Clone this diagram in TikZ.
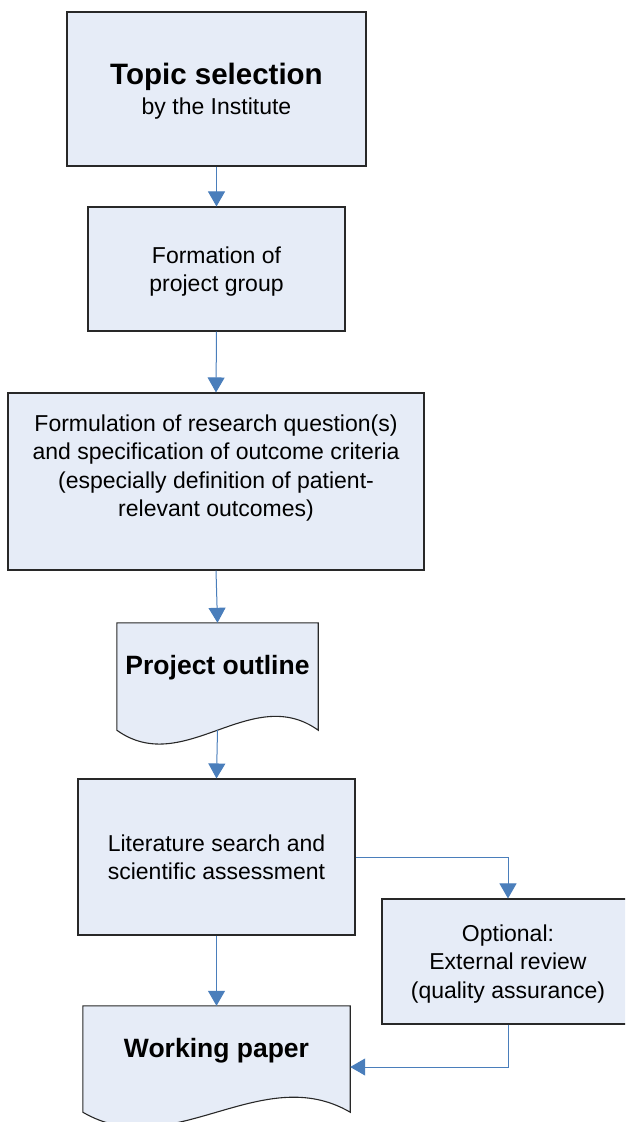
\documentclass[tikz,border=0pt]{standalone}
\usepackage{fontspec}
\setmainfont{Liberation Sans}
\usetikzlibrary{arrows.meta,calc}
\definecolor{boxfill}{RGB}{230,236,247}
\definecolor{boxline}{RGB}{40,40,40}
\definecolor{flow}{RGB}{74,126,187}

\begin{document}
\begin{tikzpicture}[x=1pt,y=-1pt,
  stepbox/.style={draw=boxline, line width=1.1pt, fill=boxfill, align=center,
    inner sep=0pt, text depth=0pt, font=\fontsize{23}{28.5}\selectfont},
  area/.style={inner sep=0pt},
  docshape/.style={draw=boxline, line width=1.1pt, fill=boxfill},
  body/.style={align=center, inner sep=0pt, font=\fontsize{23}{28.5}\selectfont},
  doctext/.style={align=center, inner sep=0pt, font=\fontsize{26.5}{30}\selectfont\bfseries},
  flowline/.style={draw=flow, line width=1pt},
  conn/.style={flowline, -{Triangle[width=17pt,length=15pt]}}]

\useasboundingbox (0,0) rectangle (625,1122);
\clip (0,0) rectangle (625,1122);

% process boxes
\node[stepbox, minimum width=299pt, minimum height=154pt] (topic) at (216.5,89)
  {{\fontsize{29.5}{31}\selectfont\bfseries Topic selection}\\[1pt]by the Institute};
\node[stepbox, minimum width=257pt, minimum height=124pt] (formation) at (216.5,269)
  {Formation of\\project group};
\node[stepbox, minimum width=416pt, minimum height=177pt] (formul) at (216,481.5) {};
\node[body] (formultext) at (216,468)
  {Formulation of research question(s)\\and specification of outcome criteria\\(especially definition of patient-\\relevant outcomes)};
\node[stepbox, minimum width=277pt, minimum height=156pt] (lit) at (216.5,857)
  {Literature search and\\scientific assessment};
\node[stepbox, minimum width=252pt, minimum height=125pt] (opt) at (508,961.5)
  {Optional:\\External review\\(quality assurance)};

% document shapes with wavy lower edge
\node[area, minimum width=201pt, minimum height=107pt] (po) at (217.5,676.5) {};
\path[docshape] (po.north west) -- (po.north east) -- (po.south east)
  .. controls ($(po.south east)+(-67,-48)$) and ($(po.south west)+(67,48)$) .. (po.south west) -- cycle;
\node[doctext] (potext) at (217.5,668) {Project outline};

\node[area, minimum width=267pt, minimum height=106pt] (wp) at (216.5,1059) {};
\path[docshape] (wp.north west) -- (wp.north east) -- (wp.south east)
  .. controls ($(wp.south east)+(-89,-52)$) and ($(wp.south west)+(89,52)$) .. (wp.south west) -- cycle;
\node[doctext] (wptext) at (216.5,1051) {Working paper};

% connectors
\draw[conn] (topic.south) -- (formation.north);
\draw[conn] (formation.south) -- (formul.north);
\draw[conn] (formul.south) -- (po.north);
\draw[conn] (po.south) -- (lit.north);
\draw[conn] (lit.south) -- (wp.north);
\draw[conn] (lit.east) -| (opt.north);
\coordinate (wpin) at ($(wp.east)+(0,8)$);
\draw[conn] (opt.south) |- (wpin);
\end{tikzpicture}
\end{document}
